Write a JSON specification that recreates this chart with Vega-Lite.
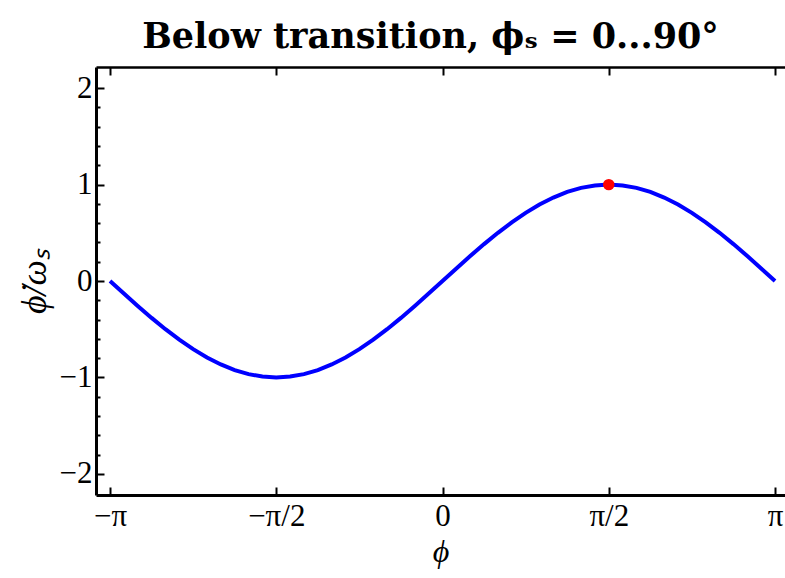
{
  "$schema": "https://vega.github.io/schema/vega-lite/v6.json",
  "width": 689,
  "height": 428,
  "autosize": "none",
  "padding": {"left": 96, "top": 67, "right": 0, "bottom": 83},
  "background": "white",
  "config": {
    "view": {"stroke": null},
    "axis": {
      "grid": false,
      "labelFont": "Liberation Serif",
      "labelFontSize": 31,
      "labelColor": "black",
      "labelOverlap": false,
      "titleFont": "Liberation Serif",
      "titleColor": "black",
      "domainColor": "black",
      "tickColor": "black"
    }
  },
  "title": {
    "text": "Below transition, ϕₛ = 0...90°",
    "font": "DejaVu Serif",
    "fontSize": 35,
    "fontWeight": "bold",
    "anchor": "middle",
    "frame": "group",
    "offset": 11,
    "dx": -10,
    "color": "black"
  },
  "datasets": {
    "curve": [
      {"x": -3.1416, "y": 0},
      {"x": -3.0107, "y": -0.1305},
      {"x": -2.8798, "y": -0.2588},
      {"x": -2.7489, "y": -0.3827},
      {"x": -2.618, "y": -0.5},
      {"x": -2.4871, "y": -0.6088},
      {"x": -2.3562, "y": -0.7071},
      {"x": -2.2253, "y": -0.7934},
      {"x": -2.0944, "y": -0.866},
      {"x": -1.9635, "y": -0.9239},
      {"x": -1.8326, "y": -0.9659},
      {"x": -1.7017, "y": -0.9914},
      {"x": -1.5708, "y": -1},
      {"x": -1.4399, "y": -0.9914},
      {"x": -1.309, "y": -0.9659},
      {"x": -1.1781, "y": -0.9239},
      {"x": -1.0472, "y": -0.866},
      {"x": -0.9163, "y": -0.7934},
      {"x": -0.7854, "y": -0.7071},
      {"x": -0.6545, "y": -0.6088},
      {"x": -0.5236, "y": -0.5},
      {"x": -0.3927, "y": -0.3827},
      {"x": -0.2618, "y": -0.2588},
      {"x": -0.1309, "y": -0.1305},
      {"x": 0, "y": 0},
      {"x": 0.1309, "y": 0.1305},
      {"x": 0.2618, "y": 0.2588},
      {"x": 0.3927, "y": 0.3827},
      {"x": 0.5236, "y": 0.5},
      {"x": 0.6545, "y": 0.6088},
      {"x": 0.7854, "y": 0.7071},
      {"x": 0.9163, "y": 0.7934},
      {"x": 1.0472, "y": 0.866},
      {"x": 1.1781, "y": 0.9239},
      {"x": 1.309, "y": 0.9659},
      {"x": 1.4399, "y": 0.9914},
      {"x": 1.5708, "y": 1},
      {"x": 1.7017, "y": 0.9914},
      {"x": 1.8326, "y": 0.9659},
      {"x": 1.9635, "y": 0.9239},
      {"x": 2.0944, "y": 0.866},
      {"x": 2.2253, "y": 0.7934},
      {"x": 2.3562, "y": 0.7071},
      {"x": 2.4871, "y": 0.6088},
      {"x": 2.618, "y": 0.5},
      {"x": 2.7489, "y": 0.3827},
      {"x": 2.8798, "y": 0.2588},
      {"x": 3.0107, "y": 0.1305},
      {"x": 3.1416, "y": 0}
    ],
    "marker": [
      {"x": 1.5708, "y": 1}
    ]
  },
  "layer": [
    {
      "data": {"name": "curve"},
      "mark": {"type": "line", "color": "#0000ff", "strokeWidth": 4, "clip": true},
      "encoding": {
        "x": {
          "field": "x",
          "type": "quantitative",
          "scale": {"domain": [-3.274, 3.236], "nice": false, "zero": false},
          "axis": {
            "orient": "bottom",
            "values": [-3.14159, -1.5708, 0, 1.5708, 3.14159],
            "labelExpr": "datum.value < -3 ? '−π' : datum.value < -1 ? '−π/2' : datum.value < 1 ? '0' : datum.value < 3 ? 'π/2' : 'π'",
            "labelFlush": false,
            "labelOverlap": false,
            "tickSize": -8,
            "tickWidth": 2,
            "domainWidth": 3,
            "labelPadding": 14,
            "title": "ϕ",
            "titleFontSize": 32,
            "titleFontStyle": "italic",
            "titleFontWeight": "normal",
            "titlePadding": 5
          }
        },
        "y": {
          "field": "y",
          "type": "quantitative",
          "scale": {"domain": [-2.22, 2.22], "nice": false, "zero": false},
          "axis": {
            "orient": "left",
            "values": [-2, -1.8, -1.6, -1.4, -1.2, -1, -0.8, -0.6, -0.4, -0.2, 0, 0.2, 0.4, 0.6, 0.8, 1, 1.2, 1.4, 1.6, 1.8, 2],
            "labelExpr": "abs(datum.value - round(datum.value)) < 0.01 ? (datum.value < -0.5 ? '−' + abs(round(datum.value)) : '' + round(datum.value)) : ''",
            "labelOverlap": false,
            "labelSeparation": -60,
            "tickSize": -8,
            "tickDash": {"condition": {"test": "abs(datum.value - round(datum.value)) < 0.01", "value": []}, "value": [4, 20]},
            "tickWidth": 2,
            "domainWidth": 3,
            "labelPadding": 12,
            "title": "ϕ̇/ωₛ",
            "titleFontSize": 36,
            "titleFontStyle": "italic",
            "titleFontWeight": "normal",
            "titlePadding": 6
          }
        }
      }
    },
    {
      "data": {"name": "marker"},
      "mark": {"type": "point", "filled": true, "color": "#ff0000", "size": 130, "opacity": 1},
      "encoding": {
        "x": {
          "field": "x",
          "type": "quantitative",
          "axis": {
            "orient": "top",
            "values": [-3.14159, -1.5708, 0, 1.5708, 3.14159],
            "labels": false,
            "tickSize": -8,
            "tickWidth": 2,
            "domainWidth": 2.5,
            "title": null
          }
        },
        "y": {
          "field": "y",
          "type": "quantitative",
          "axis": {
            "orient": "left",
            "values": [-2, -1.8, -1.6, -1.4, -1.2, -1, -0.8, -0.6, -0.4, -0.2, 0, 0.2, 0.4, 0.6, 0.8, 1, 1.2, 1.4, 1.6, 1.8, 2],
            "labelExpr": "abs(datum.value - round(datum.value)) < 0.01 ? (datum.value < -0.5 ? '−' + abs(round(datum.value)) : '' + round(datum.value)) : ''",
            "labelOverlap": false,
            "labelSeparation": -60,
            "tickSize": -8,
            "tickDash": {"condition": {"test": "abs(datum.value - round(datum.value)) < 0.01", "value": []}, "value": [4, 20]},
            "tickWidth": 2,
            "domainWidth": 3,
            "labelPadding": 12,
            "title": "ϕ̇/ωₛ",
            "titleFontSize": 36,
            "titleFontStyle": "italic",
            "titleFontWeight": "normal",
            "titlePadding": 6
          }
        }
      }
    }
  ],
  "resolve": {"axis": {"x": "independent"}}
}
